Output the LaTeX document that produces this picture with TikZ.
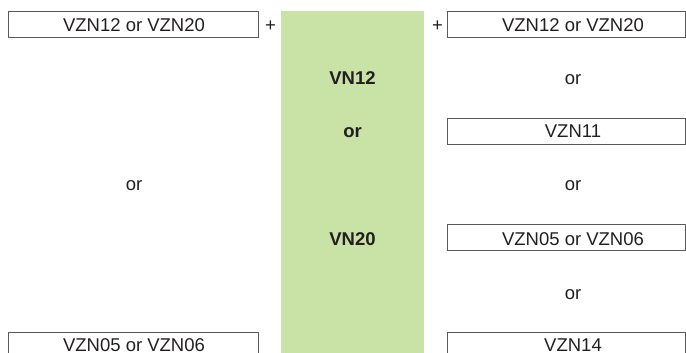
\documentclass[tikz,border=0pt]{standalone}
\usepackage{fontspec}
\setmainfont{Liberation Sans}
\definecolor{boxgray}{RGB}{90,90,90}
\definecolor{txt}{RGB}{35,31,32}
\definecolor{vgreen}{RGB}{201,226,166}
\begin{document}
\begin{tikzpicture}[x=1pt,y=-1pt,
  every node/.style={inner sep=0pt,outer sep=0pt,text=txt,font=\fontsize{18.5}{20}\selectfont},
  frame/.style={draw=boxgray,line width=0.9pt,rectangle,anchor=north west},
  lbl/.style={anchor=base,text depth=0pt},
  blbl/.style={anchor=base,text depth=0pt,font=\fontsize{18.5}{20}\selectfont\bfseries}]
\useasboundingbox (0,0) rectangle (686,353);
\clip (0,0) rectangle (686,353);
% green column
\node[fill=vgreen,anchor=north west,minimum width=143pt,minimum height=360pt] (green) at (281,11) {};
% left column
\node[frame,minimum width=250pt,minimum height=26pt] (L1) at (8,11) {};
\node[lbl] (L1t) at (134,31.7) {VZN12 or VZN20};
\node[lbl] (Lor) at (134,190.7) {or};
\node[frame,minimum width=250pt,minimum height=26pt] (L2) at (8,332) {};
\node[lbl] (L2t) at (134,351.5) {VZN05 or VZN06};
% plus signs
\node[lbl] (p1) at (270.5,31.7) {+};
\node[lbl] (p2) at (437.5,31.7) {+};
% centre
\node[blbl] (c1) at (352.5,84.3) {VN12};
\node[blbl] (c2) at (352.5,137.7) {or};
\node[blbl] (c3) at (352.5,245.3) {VN20};
% right column
\node[frame,minimum width=238pt,minimum height=26pt] (R1) at (447,11) {};
\node[lbl] (R1t) at (573,31.7) {VZN12 or VZN20};
\node[lbl] (Ror1) at (573,84.3) {or};
\node[frame,minimum width=238pt,minimum height=26pt] (R2) at (447,118) {};
\node[lbl] (R2t) at (573,137.7) {VZN11};
\node[lbl] (Ror2) at (573,190.7) {or};
\node[frame,minimum width=238pt,minimum height=26pt] (R3) at (447,224) {};
\node[lbl] (R3t) at (573,245.5) {VZN05 or VZN06};
\node[lbl] (Ror3) at (573,299.5) {or};
\node[frame,minimum width=238pt,minimum height=26pt] (R4) at (447,332) {};
\node[lbl] (R4t) at (573,351.5) {VZN14};
\end{tikzpicture}
\end{document}
